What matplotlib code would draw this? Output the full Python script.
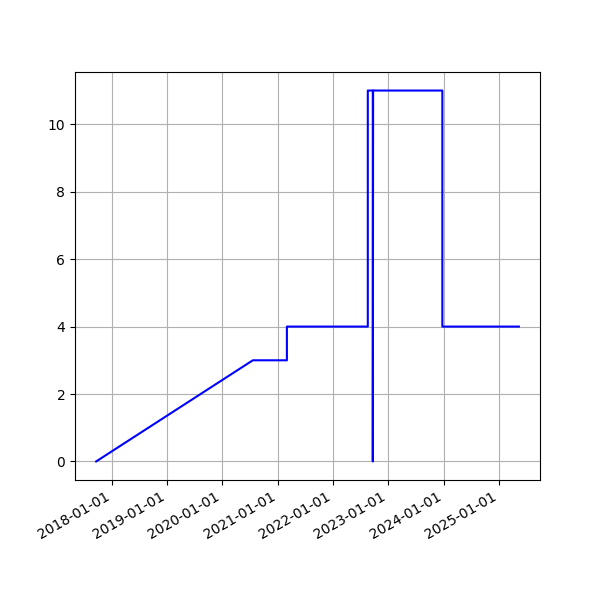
import pandas as pd
import matplotlib.pyplot as plt
import matplotlib.dates as mdates

dates = ['2017-09-21', '2020-07-21', '2021-03-03', '2021-03-03', '2022-08-19', '2022-08-19',
         '2022-09-21', '2022-09-21', '2022-09-23', '2023-12-24', '2023-12-24', '2025-05-12']
values = [0, 3, 3, 4, 4, 11, 11, 0, 11, 11, 4, 4]

time_change = pd.to_datetime(dates)

fig, ax = plt.subplots(figsize=(6, 6), dpi=100)

ax.plot(time_change, values, color='b', linestyle='-')

ax.xaxis.set_major_locator(mdates.YearLocator())
ax.xaxis.set_major_formatter(mdates.DateFormatter('%Y-%m-%d'))
ax.grid(True)
fig.autofmt_xdate()

plt.savefig('out.png')
